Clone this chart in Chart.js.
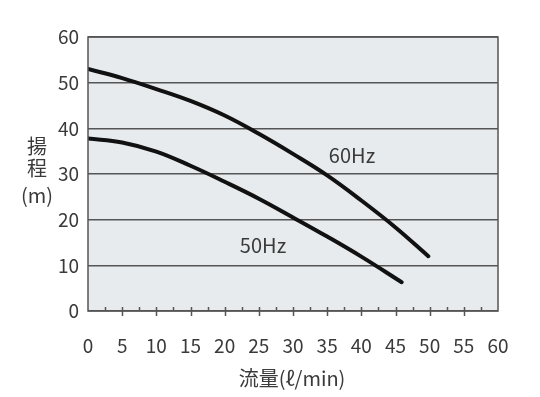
<!DOCTYPE html>
<html>
<head>
<meta charset="utf-8">
<script src="https://cdn.jsdelivr.net/npm/chart.js@4/dist/chart.umd.min.js"></script>
<style>
  html, body { margin: 0; padding: 0; background: #fff; }
  #wrap { width: 540px; height: 397px; }
</style>
</head>
<body>
<div id="wrap"><canvas id="pump"></canvas></div>
<script>
// 流量 (ℓ/min) / 揚程 (m)
const flow60 = [0, 5, 10, 15, 20, 25, 30, 35, 40, 45, 49.8];
const head60 = [53.0, 51.0, 48.6, 46.0, 42.8, 38.8, 34.4, 29.7, 24.2, 18.3, 12.0];
const flow50 = [0, 5, 10, 15, 20, 25, 30, 35, 40, 45.9];
const head50 = [37.8, 36.9, 34.9, 31.8, 28.3, 24.6, 20.5, 16.3, 11.9, 6.3];
const xTicks = [0, 5, 10, 15, 20, 25, 30, 35, 40, 45, 50, 55, 60];
const yTicks = [0, 10, 20, 30, 40, 50, 60];
const seriesNames = ['60Hz', '50Hz'];
const yTitle = ['揚', '程', '(m)'];
const xTitle = '流量(ℓ/min)';

const FONT = '"Noto Sans CJK JP", "Noto Sans", sans-serif';
const TEXT = '#3a3a3a';
const LINE = '#555555';

function pts(xs, ys) {
    return xs.map((x, i) => ({ x: x, y: ys[i] }));
}

const frame = {
    id: 'frame',
    beforeDraw(chart) {
        const a = chart.chartArea, ctx = chart.ctx;
        ctx.save();
        ctx.fillStyle = '#e8ebee';
        ctx.fillRect(a.left, a.top, a.right - a.left, a.bottom - a.top);
        ctx.restore();
    },
    afterDraw(chart) {
        const a = chart.chartArea, ctx = chart.ctx;
        const xs = chart.scales.x;
        ctx.save();
        ctx.strokeStyle = LINE;
        ctx.lineWidth = 1.5;
        ctx.strokeRect(a.left, a.top, a.right - a.left, a.bottom - a.top);
        // small ticks every 2.5, longer ones crossing the axis every 5
        ctx.beginPath();
        for (let v = 2.5; v < 60; v += 2.5) {
            const px = Math.round(xs.getPixelForValue(v)) + 0.5;
            const long = v % 5 === 0;
            ctx.moveTo(px, a.bottom - 4);
            ctx.lineTo(px, a.bottom + (long ? 5 : 0));
        }
        ctx.stroke();

        ctx.fillStyle = TEXT;
        ctx.textAlign = 'center';
        ctx.textBaseline = 'middle';
        ctx.font = '20px ' + FONT;
        const ys = [146, 168, 195];
        yTitle.forEach((t, i) => ctx.fillText(t, 37, ys[i]));
        ctx.fillText(xTitle, 292, 378);
        ctx.fillText(seriesNames[0], 352, 155);
        ctx.fillText(seriesNames[1], 263, 245);
        ctx.restore();
    }
};

new Chart(document.getElementById('pump'), {
    type: 'line',
    data: {
        datasets: [
            { label: seriesNames[0], data: pts(flow60, head60) },
            { label: seriesNames[1], data: pts(flow50, head50) }
        ]
    },
    options: {
        responsive: true,
        maintainAspectRatio: false,
        animation: false,
        layout: { padding: { left: 0, right: 42, top: 37, bottom: 0 } },
        elements: {
            point: { radius: 0 },
            line: { borderColor: '#111', borderWidth: 4, tension: 0.4, borderCapStyle: 'round', fill: false }
        },
        plugins: {
            legend: { display: false },
            tooltip: { enabled: false }
        },
        scales: {
            x: {
                type: 'linear',
                min: 0,
                max: 60,
                afterFit: s => { s.height = 397 - 311; },
                afterBuildTicks: s => { s.ticks = xTicks.map(v => ({ value: v })); },
                grid: { display: false },
                border: { display: false },
                ticks: { color: TEXT, font: { family: FONT, size: 19 }, padding: 15, maxRotation: 0, autoSkip: false }
            },
            y: {
                min: 0,
                max: 60,
                afterFit: s => { s.width = 88; },
                afterBuildTicks: s => { s.ticks = yTicks.map(v => ({ value: v })); },
                grid: { color: LINE, lineWidth: 1.5, drawTicks: false },
                border: { display: false },
                ticks: { color: TEXT, font: { family: FONT, size: 19 }, padding: 9 }
            }
        }
    },
    plugins: [frame]
});
</script>
</body>
</html>
